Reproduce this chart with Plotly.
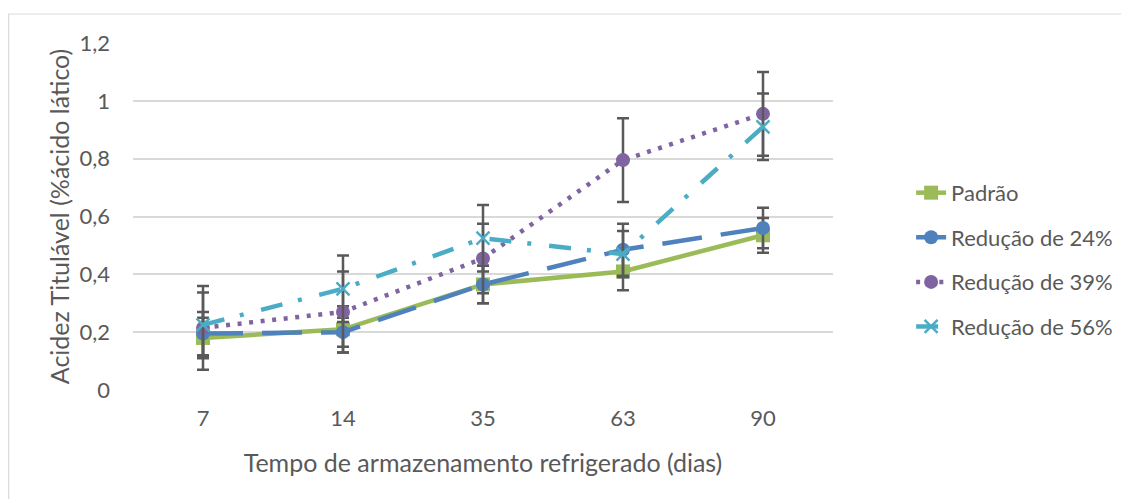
import plotly.graph_objects as go

days = ["7", "14", "35", "63", "90"]
series_names = ["Padrão", "Redução de 24%", "Redução de 39%", "Redução de 56%"]
padrao = [0.18, 0.21, 0.365, 0.41, 0.535]
red24 = [0.195, 0.20, 0.365, 0.485, 0.56]
red39 = [0.215, 0.27, 0.455, 0.795, 0.955]
red56 = [0.225, 0.35, 0.525, 0.47, 0.91]
err_padrao = [0.07, 0.08, 0.065, 0.065, 0.06]
err_red24 = [0.075, 0.05, 0.065, 0.09, 0.07]
err_red39 = [0.145, 0.14, 0.12, 0.145, 0.145]
err_red56 = [0.112, 0.115, 0.115, 0.08, 0.115]

colors = ["#9BBB59", "#4F81BD", "#8064A2", "#4BACC6"]
dashes = ["solid", "40px,19px", "4px,7.6px", "22px,16px,4px,18px"]
symbols = ["square", "circle", "circle", "x-thin"]
values = [padrao, red24, red39, red56]
errors = [err_padrao, err_red24, err_red39, err_red56]

FONT = "Lato, Carlito, Calibri, sans-serif"
fig = go.Figure()
for name, vals, errs, col, dsh, sym in zip(series_names, values, errors, colors, dashes, symbols):
    marker = dict(symbol=sym, size=14, color=col)
    if sym == "x-thin":
        marker = dict(symbol=sym, size=13, color=col, line=dict(color=col, width=2.5))
    fig.add_trace(go.Scatter(
        x=days, y=vals, name=name, mode="lines+markers",
        line=dict(color=col, width=4.5, dash=dsh),
        marker=marker,
        error_y=dict(type="data", array=errs, visible=True, color="#595959",
                     thickness=2.5, width=6),
        legendgroup=name,
    ))

fig.update_layout(
    width=1121, height=491,
    paper_bgcolor="white", plot_bgcolor="white",
    margin=dict(l=125, r=295, t=35, b=109),
    font=dict(family=FONT, size=22, color="#595959"),
    xaxis=dict(
        type="category", range=[-0.5, 4.5], showgrid=False, zeroline=False, showline=False,
        ticks="", ticklabelstandoff=13,
        tickfont=dict(size=22, color="#595959"),
        title=dict(text="Tempo de armazenamento refrigerado (dias)",
                   font=dict(size=25, color="#595959"), standoff=24),
    ),
    yaxis=dict(
        range=[0, 1.2], dtick=0.2, showgrid=True, gridcolor="#D9D9D9", gridwidth=1.5,
        zeroline=False, showline=False, ticks="", ticklabelstandoff=22,
        tickformat=".1~f",
        tickfont=dict(size=22, color="#595959"),
        title=dict(text="Acidez Titulável (%ácido lático)",
                   font=dict(size=25, color="#595959"), standoff=2),
    ),
    separators=",.",
    legend=dict(x=1.11, y=0.375, xanchor="left", yanchor="middle",
                font=dict(size=22, color="#595959"), tracegroupgap=13,
                bgcolor="rgba(0,0,0,0)"),
    showlegend=True,
)
fig.add_shape(type="rect", xref="paper", yref="paper",
              x0=-0.1776, x1=1.5, y0=-0.5, y1=1.0836,
              line=dict(color="#D9D9D9", width=1.2), fillcolor="rgba(0,0,0,0)", layer="below")

fig.write_html("out.html")
